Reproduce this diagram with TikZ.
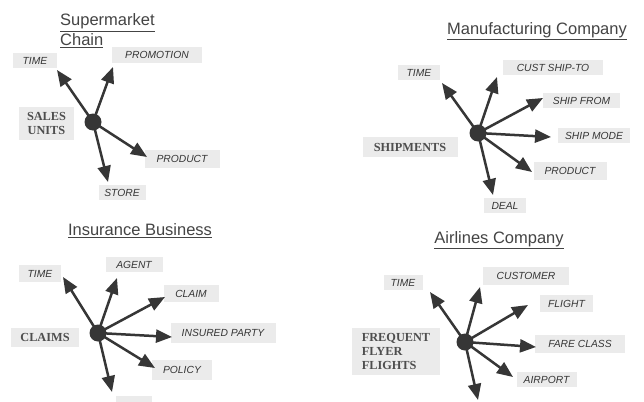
\documentclass[tikz,border=0pt]{standalone}
\usepackage{fontspec}
\setmainfont{Liberation Sans}
\newfontfamily\factfont{Liberation Serif}
\usetikzlibrary{arrows.meta}
\definecolor{boxgray}{HTML}{EBEBEB}
\definecolor{inkgray}{HTML}{363636}
\definecolor{titlegray}{HTML}{444444}
\definecolor{factgray}{HTML}{4E4E4E}
\tikzset{
  dimbox/.style={fill=boxgray, text=inkgray, inner sep=0pt,
    font=\fontsize{10.3}{12}\selectfont\itshape},
  factbox/.style={fill=boxgray, text=factgray, inner sep=0pt, align=center,
    font=\fontsize{12.3}{14}\selectfont\factfont\bfseries},
  title/.style={text=titlegray, inner sep=0pt, align=left,
    font=\fontsize{16.5}{20}\selectfont},
  hub/.style={circle, fill=inkgray, minimum size=17pt, inner sep=0pt},
  spoke/.style={draw=inkgray, line width=2.5pt,
    -{Triangle[length=16pt,width=13pt]}, shorten <=-2pt},
}
\begin{document}
\begin{tikzpicture}[x=1pt,y=-1pt]
\useasboundingbox (0,0) rectangle (644,401);
\clip (0,0) rectangle (644,401);
\fill[white] (0,0) rectangle (644,401);

% ---------------- Supermarket chain ----------------
\node[title, anchor=west] (t1) at (60,31) {\underline{Supermarket}\\\underline{Chain}};
\node[dimbox, minimum width=44pt, minimum height=15pt] (s-time) at (35,60.5) {TIME};
\node[dimbox, minimum width=90pt, minimum height=16pt] (s-promo) at (157,55) {PROMOTION};
\node[dimbox, minimum width=75pt, minimum height=18pt] (s-prod) at (182,159) {PRODUCT};
\node[dimbox, minimum width=47pt, minimum height=15pt] (s-store) at (122,192.5) {STORE};
\node[factbox, minimum width=55pt, minimum height=33pt] (s-fact) at (46.5,123.5) {SALES\\UNITS};
\node[hub] (s-hub) at (93,122) {};
\coordinate (s-a1) at (57,70);
\coordinate (s-a2) at (113,67);
\coordinate (s-a3) at (147,157);
\coordinate (s-a4) at (108,182);
\foreach \t in {s-a1,s-a2,s-a3,s-a4} \draw[spoke] (s-hub.center) -- (\t);

% ---------------- Manufacturing company ----------------
\node[title] (t2) at (537,31) {\underline{Manufacturing Company}};
\node[dimbox, minimum width=42pt, minimum height=15pt] (m-time) at (419,72.5) {TIME};
\node[dimbox, minimum width=100pt, minimum height=15pt] (m-cust) at (553,67.5) {CUST SHIP-TO};
\node[dimbox, minimum width=77pt, minimum height=15pt] (m-from) at (581.5,100.5) {SHIP FROM};
\node[dimbox, minimum width=72pt, minimum height=15pt] (m-mode) at (594,135.5) {SHIP MODE};
\node[dimbox, minimum width=73pt, minimum height=18pt] (m-prod) at (570,171) {PRODUCT};
\node[dimbox, minimum width=42pt, minimum height=15pt] (m-deal) at (505,205.5) {DEAL};
\node[factbox, minimum width=95pt, minimum height=20pt] (m-fact) at (410,147) {SHIPMENTS};
\node[hub] (m-hub) at (478,133) {};
\coordinate (m-a1) at (442,83);
\coordinate (m-a2) at (497,77);
\coordinate (m-a3) at (543,98);
\coordinate (m-a4) at (551,137);
\coordinate (m-a5) at (532,172);
\coordinate (m-a6) at (493,195);
\foreach \t in {m-a1,m-a2,m-a3,m-a4,m-a5,m-a6} \draw[spoke] (m-hub.center) -- (\t);

% ---------------- Insurance business ----------------
\node[title] (t3) at (140,231) {\underline{Insurance Business}};
\node[dimbox, minimum width=42pt, minimum height=17pt] (i-time) at (40,273.5) {TIME};
\node[dimbox, minimum width=57pt, minimum height=15pt] (i-agent) at (134,264.5) {AGENT};
\node[dimbox, minimum width=55pt, minimum height=17pt] (i-claim) at (191,293.5) {CLAIM};
\node[dimbox, minimum width=105pt, minimum height=20pt] (i-party) at (223,333) {INSURED PARTY};
\node[dimbox, minimum width=60pt, minimum height=20pt] (i-policy) at (182,370) {POLICY};
\node[dimbox, minimum width=36pt, minimum height=14pt] (i-lower) at (134,403) {};
\node[factbox, minimum width=68pt, minimum height=19pt] (i-fact) at (45,337.5) {CLAIMS};
\node[hub] (i-hub) at (98,333) {};
\coordinate (i-a1) at (63,277);
\coordinate (i-a2) at (117,278);
\coordinate (i-a3) at (165,297);
\coordinate (i-a4) at (172,337);
\coordinate (i-a5) at (155,368);
\coordinate (i-a6) at (112,392);
\foreach \t in {i-a1,i-a2,i-a3,i-a4,i-a5,i-a6} \draw[spoke] (i-hub.center) -- (\t);

% ---------------- Airlines company ----------------
\node[title] (t4) at (499,240) {\underline{Airlines Company}};
\node[dimbox, minimum width=39pt, minimum height=15pt] (a-time) at (403,282.5) {TIME};
\node[dimbox, minimum width=86pt, minimum height=18pt] (a-cust) at (526,276) {CUSTOMER};
\node[dimbox, minimum width=53pt, minimum height=17pt] (a-flight) at (566.5,303.5) {FLIGHT};
\node[dimbox, minimum width=90pt, minimum height=18pt] (a-fare) at (580,344) {FARE CLASS};
\node[dimbox, minimum width=60pt, minimum height=15pt] (a-port) at (546.5,379.5) {AIRPORT};
\node[factbox, minimum width=88pt, minimum height=47pt, align=left] (a-fact) at (396,351.5) {FREQUENT\\FLYER\\FLIGHTS};
\node[hub] (a-hub) at (465,342) {};
\coordinate (a-a1) at (430,292);
\coordinate (a-a2) at (480,287);
\coordinate (a-a3) at (528,305);
\coordinate (a-a4) at (536,347);
\coordinate (a-a5) at (513,377);
\coordinate (a-a6) at (478,400);
\foreach \t in {a-a1,a-a2,a-a3,a-a4,a-a5,a-a6} \draw[spoke] (a-hub.center) -- (\t);
\end{tikzpicture}
\end{document}
